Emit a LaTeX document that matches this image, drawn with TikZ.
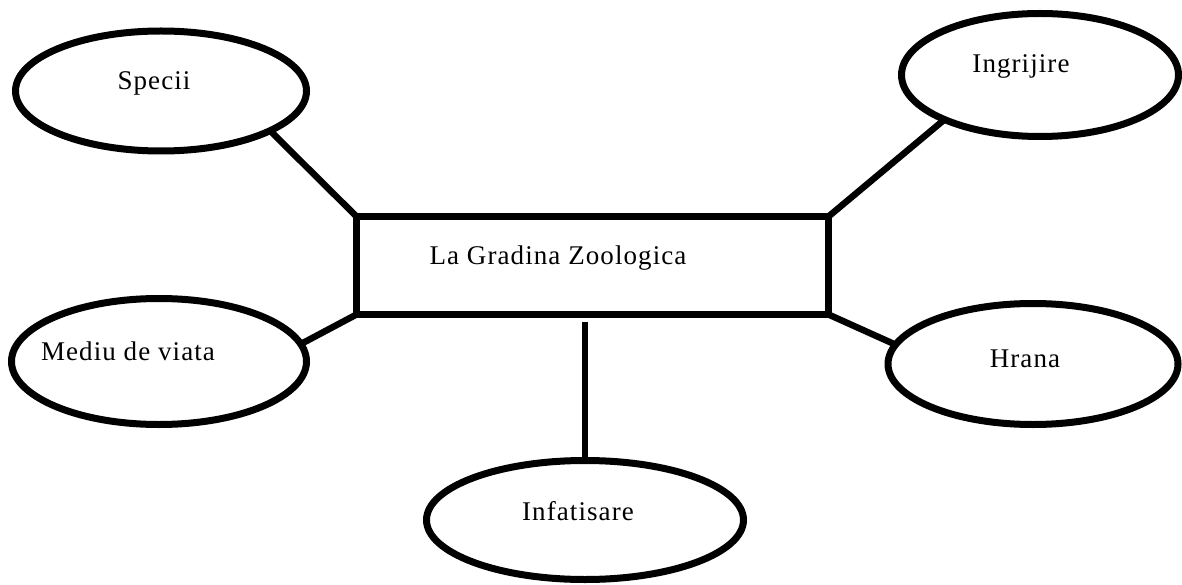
\documentclass[tikz,border=0pt]{standalone}
\usepackage{fontspec}
\setmainfont{Liberation Serif}
\newfontfamily\lblfont[LetterSpace=4]{Liberation Serif}
\usetikzlibrary{shapes.geometric}
\begin{document}
\begin{tikzpicture}[x=1pt,y=-1pt,
  oval/.style={draw, line width=7pt, ellipse, inner sep=0pt, outer sep=0pt},
  boxnode/.style={draw, line width=7pt, rectangle, inner sep=0pt, outer sep=0pt},
  lbl/.style={font=\lblfont\fontsize{27}{31}\selectfont, anchor=base, inner sep=0pt},
  link/.style={line width=6.5pt}]
\useasboundingbox (0,0) rectangle (1182,585);
\fill[white] (0,0) rectangle (1182,585);
% shapes
\node[boxnode, minimum width=472pt, minimum height=98pt] (box) at (592.5,265.5) {};
\node[oval, minimum width=291pt, minimum height=120pt] (specii) at (161,91) {};
\node[oval, minimum width=277pt, minimum height=123pt] (ingrijire) at (1040,75) {};
\node[oval, minimum width=295pt, minimum height=126pt] (mediu) at (159,361.5) {};
\node[oval, minimum width=290pt, minimum height=121pt] (hrana) at (1033,364) {};
\node[oval, minimum width=317pt, minimum height=119pt] (infatisare) at (585,520) {};
% labels
\node[lbl] (tbox) at (558,264) {La Gradina Zoologica};
\node[lbl] (tspecii) at (154,90) {Specii};
\node[lbl] (tingrijire) at (1021,73) {Ingrijire};
\node[lbl] (tmediu) at (128,360) {Mediu de viata};
\node[lbl] (thrana) at (1025,367) {Hrana};
\node[lbl] (tinfatisare) at (578,520) {Infatisare};
% connectors
\draw[link] (specii.-20.6) -- (box.north west);
\draw[link] (ingrijire.-155) -- (box.north east);
\draw[link] (mediu.7.2) -- (box.south west);
\draw[link] (hrana.172.3) -- (box.south east);
\draw[link] ([yshift=-7.5pt]box.south -| infatisare.north) -- (infatisare.north);
\end{tikzpicture}
\end{document}
